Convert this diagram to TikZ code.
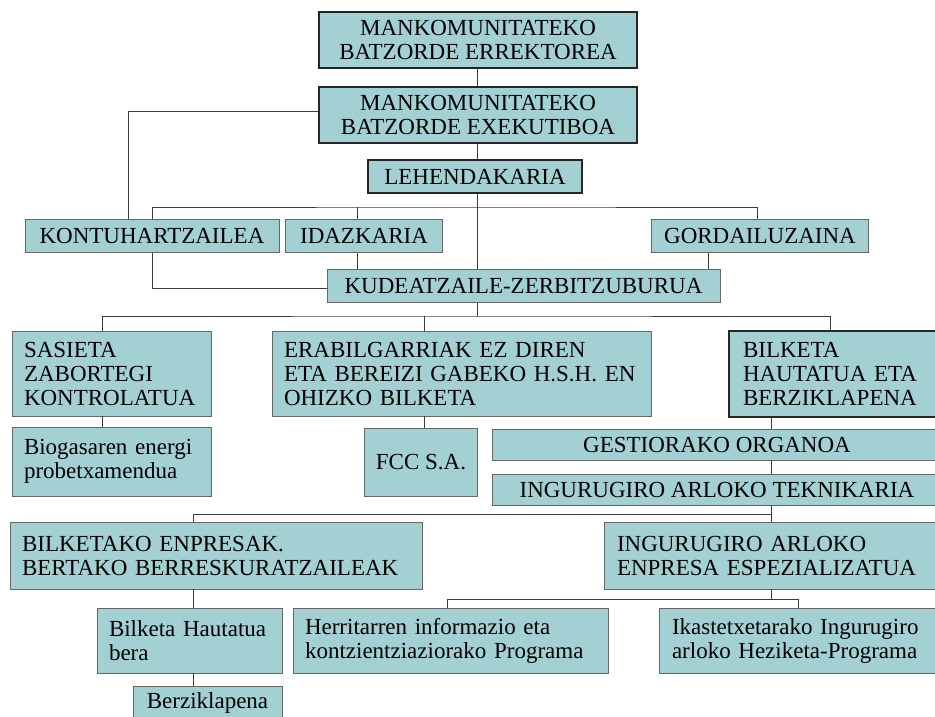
\documentclass[tikz,border=0pt]{standalone}
\usepackage{fontspec}
\setmainfont{Liberation Serif}
\usetikzlibrary{positioning, calc}
\definecolor{boxfill}{RGB}{163,208,210}
\definecolor{linegray}{RGB}{60,60,60}

\begin{document}
\begin{tikzpicture}[x=1pt, y=-1pt, line width=1pt, draw=linegray]
        % Define block styles
        \tikzstyle{block} = [rectangle, draw=black!60, line width=0.9pt, fill=boxfill, inner sep=0pt, align=center, font=\fontsize{23}{24}\selectfont]
        \tikzstyle{lblock} = [block, inner xsep=12pt, align=left]
        \tikzstyle{main} = [block, draw=black!85, line width=2.6pt]

        \useasboundingbox (0,0) rectangle (935,716);
        \clip (0,0) rectangle (935,716);

        % Place nodes
        \node [main, minimum width=318pt, minimum height=56pt] (rector) at (478,40) {MANKOMUNITATEKO\\BATZORDE ERREKTOREA};
        \node [main, minimum width=318pt, minimum height=56pt] (exec) at (478,115) {MANKOMUNITATEKO\\BATZORDE EXEKUTIBOA};
        \node [main, minimum width=214pt, minimum height=33pt] (lehen) at (475,176.5) {LEHENDAKARIA};

        \node [block, minimum width=254pt, minimum height=33pt] (kontu) at (152,236) {KONTUHARTZAILEA};
        \node [block, minimum width=157pt, minimum height=33pt] (idazk) at (364,236) {IDAZKARIA};
        \node [block, minimum width=217pt, minimum height=33pt] (gordai) at (760,236) {GORDAILUZAINA};
        \node [block, minimum width=393pt, minimum height=33pt] (kudeatz) at (523.5,286) {KUDEATZAILE-ZERBITZUBURUA};

        \node [lblock, text width=175pt, minimum height=85pt] (sasieta) at (111.5,373.5) {SASIETA\\ZABORTEGI\\KONTROLATUA};
        \node [lblock, text width=355pt, minimum height=85pt] (erabil) at (461.5,373.5) {ERABILGARRIAK EZ DIREN\\ETA BEREIZI GABEKO H.S.H. EN\\OHIZKO BILKETA};
        \node [main, inner xsep=14pt, align=left, text width=200pt, minimum height=86pt] (bilketa) at (843,374) {BILKETA\\HAUTATUA ETA\\BERZIKLAPENA};

        \node [lblock, text width=175pt, minimum height=69pt] (biogas) at (111.5,461.5) {Biogasaren energi\\probetxamendua};
        \node [block, minimum width=113pt, minimum height=68pt] (fcc) at (421,462) {FCC S.A.};
        \node [block, minimum width=450pt, minimum height=31pt] (gestio) at (717,444.5) {GESTIORAKO ORGANOA};
        \node [block, minimum width=450pt, minimum height=31pt] (tekni) at (717,489.5) {INGURUGIRO ARLOKO TEKNIKARIA};

        \node [lblock, text width=388pt, minimum height=67pt] (bilkemp) at (216,555.5) {BILKETAKO ENPRESAK.\\BERTAKO BERRESKURATZAILEAK};
        \node [lblock, inner xsep=13pt, text width=314pt, minimum height=67pt] (ingenp) at (774,555.5) {INGURUGIRO ARLOKO\\ENPRESA ESPEZIALIZATUA};

        \node [lblock, text width=161pt, minimum height=65pt] (hautatua) at (189.5,640.5) {Bilketa Hautatua\\bera};
        \node [lblock, text width=291pt, minimum height=65pt] (herrit) at (450.5,640.5) {Herritarren informazio eta\\kontzientziaziorako Programa};
        \node [lblock, inner xsep=13pt, text width=260pt, minimum height=65pt] (ikast) at (802,640.5) {Ikastetxetarako Ingurugiro\\arloko Heziketa-Programa};
        \node [block, minimum width=149pt, minimum height=34pt] (berzik) at (207.5,703) {Berziklapena};

        % Spines and bars
        \coordinate (spine1) at (477,0);
        \coordinate (spine2) at (771,0);
        \coordinate (spine3) at (193,0);
        \coordinate (bar1) at (477,207);
        \coordinate (bar2) at (477,316);
        \coordinate (bar3) at (771,514);
        \coordinate (bar4) at (771,599);

        % Draw connections
        \draw (rector.south -| spine1) -- (exec.north -| spine1);
        \draw (exec.south -| spine1) -- (lehen.north -| spine1);
        \draw (exec.west |- 0,111) -| ([xshift=-24pt]kontu.north);
        \draw (lehen.south -| spine1) -- (kudeatz.north -| spine1);
        \draw (kontu.north) |- (bar1) -| ([xshift=-3pt]gordai.north);
        \draw ([xshift=-7pt]idazk.north) -- ([xshift=-7pt]idazk.north |- bar1);
        \draw ([xshift=-7pt]idazk.south) -- ([xshift=-7pt]idazk.south |- kudeatz.north);
        \draw ([xshift=-52pt]gordai.south) -- ([xshift=-52pt]gordai.south |- kudeatz.north);
        \draw (kontu.south) |- ([yshift=-2pt]kudeatz.west);

        \draw (kudeatz.south -| spine1) -- (bar2);
        \draw ([xshift=-9pt]sasieta.north) |- (bar2) -| ([xshift=-13pt]bilketa.north);
        \draw ([xshift=-37pt]erabil.north) -- ([xshift=-37pt]erabil.north |- bar2);
        \draw ([xshift=-9pt]sasieta.south) -- ([xshift=-9pt]biogas.north);
        \draw ([xshift=-37pt]erabil.south) -- ([xshift=-37pt]erabil.south |- fcc.north);

        \draw (bilketa.south -| spine2) -- (gestio.north -| spine2);
        \draw (gestio.south -| spine2) -- (tekni.north -| spine2);
        \draw (tekni.south -| spine2) -- (ingenp.north -| spine2);
        \draw (bilkemp.north -| spine3) |- (bar3);

        \draw (bilkemp.south -| spine3) -- (hautatua.north -| spine3);
        \draw (hautatua.south -| spine3) -- (berzik.north -| spine3);
        \draw (ingenp.south -| spine2) -- (bar4);
        \draw ([xshift=-3pt]herrit.north) |- (bar4) -| ([xshift=-4pt]ikast.north);
    \end{tikzpicture}
\end{document}
